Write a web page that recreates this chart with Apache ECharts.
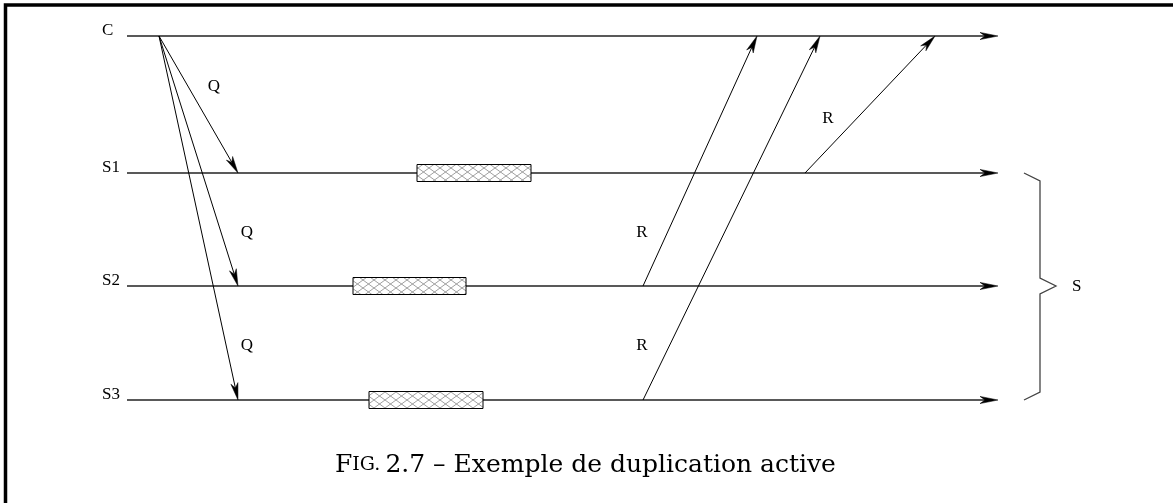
<!DOCTYPE html>
<html><head><meta charset="utf-8">
<script src="https://cdn.jsdelivr.net/npm/echarts@6/dist/echarts.min.js"></script>
<style>html,body{margin:0;padding:0;background:#fff}#c{width:1173px;height:503px}</style>
</head><body><div id="c"></div>
<script>
// ---- diagram data (in axis units) ----
const lanes = ['C', 'S1', 'S2', 'S3'];
const laneLevels = [36, 173, 286, 400];
const timelineStart = 127;
const timelineEnd = 998;
const laneLabelTime = 102;
// [sendTime, fromLane, receiveTime, toLane]
const queries = [[159, 'C', 238, 'S1'], [159, 'C', 238, 'S2'], [159, 'C', 238, 'S3']];
const replies = [[643, 'S2', 757, 'C'], [643, 'S3', 820, 'C'], [805, 'S1', 935, 'C']];
// [lane, startTime, endTime]
const processing = [['S1', 417, 531], ['S2', 353, 466], ['S3', 369, 483]];
// [text, time, level]
const messageLabels = [['Q', 214, 87], ['Q', 247, 233], ['Q', 247, 346], ['R', 642, 233], ['R', 642, 346], ['R', 828, 119]];
// [label, firstLane, middleLane, lastLane, time]
const groupBrace = ['S', 'S1', 'S2', 'S3', 1040];
const captionText = '2.7 – Exemple de duplication active';

const lv = name => laneLevels[lanes.indexOf(name)];

// hatch pattern
const pc = document.createElement('canvas');
pc.width = 11; pc.height = 8;
const g = pc.getContext('2d');
g.fillStyle = '#fff'; g.fillRect(0, 0, 11, 8);
g.strokeStyle = '#888'; g.lineWidth = 0.8;
g.beginPath(); g.moveTo(0, 0); g.lineTo(11, 8); g.moveTo(0, 8); g.lineTo(11, 0); g.stroke();

function arrowEls(p0, p1, color, lw, len, hw) {
  const dx = p1[0] - p0[0], dy = p1[1] - p0[1];
  const d = Math.sqrt(dx * dx + dy * dy);
  const ux = dx / d, uy = dy / d, nx = -uy, ny = ux;
  const bx = p1[0] - ux * len, by = p1[1] - uy * len;
  const mx = p1[0] - ux * len * 0.72, my = p1[1] - uy * len * 0.72;
  return [
    { type: 'line', shape: { x1: p0[0], y1: p0[1], x2: mx, y2: my }, style: { stroke: color, lineWidth: lw } },
    { type: 'polygon', shape: { points: [[p1[0], p1[1]], [bx + nx * hw, by + ny * hw], [mx, my], [bx - nx * hw, by - ny * hw]] },
      style: { fill: '#000', stroke: '#000', lineWidth: 0.5 } }
  ];
}

const laneData = lanes.map((n, i) => [timelineStart, laneLevels[i], timelineEnd, laneLevels[i], laneLabelTime]);
const msgData = queries.concat(replies).map(m => [m[0], lv(m[1]), m[2], lv(m[3])]);
const boxData = processing.map(p => [p[1], lv(p[0]), p[2], lv(p[0])]);
const braceData = [[groupBrace[4], lv(groupBrace[1]), lv(groupBrace[2]), lv(groupBrace[3])]];

const labelStyle = { fontFamily: 'Liberation Serif', fontSize: 17, fontWeight: 'normal', fill: '#000' };

const chart = echarts.init(document.getElementById('c'), null, { renderer: 'canvas' });
chart.setOption({
  animation: false,
  grid: { left: 0, right: 0, top: 0, bottom: 0 },
  xAxis: { type: 'value', min: 0, max: 1173, show: false },
  yAxis: { type: 'value', min: 0, max: 503, inverse: true, show: false },
  title: {
    left: 330, top: 448,
    text: '{a|F}{b|IG.} {a|' + captionText + '}',
    textStyle: {
      fontWeight: 'normal',
      rich: {
        a: { fontFamily: 'DejaVu Serif', fontSize: 25, fontWeight: 'normal', color: '#000' },
        b: { fontFamily: 'DejaVu Serif', fontSize: 19, fontWeight: 'normal', color: '#000' }
      }
    }
  },
  graphic: [{
    type: 'polyline', shape: { points: [[5.5, 503], [5.5, 5], [1173, 5]] },
    style: { stroke: '#000', lineWidth: 3.5, fill: null }
  }],
  series: [
    { // lanes
      type: 'custom', data: laneData, encode: { x: [0, 2], y: [1, 3] },
      renderItem: (params, api) => {
        const p0 = api.coord([api.value(0), api.value(1)]);
        const p1 = api.coord([api.value(2), api.value(3)]);
        const pl = api.coord([api.value(4), api.value(1)]);
        const i = params.dataIndex;
        return { type: 'group', children: arrowEls(p0, p1, '#222', 1.3, 18, 3.6).concat([
          { type: 'text', style: Object.assign({ text: lanes[i], x: pl[0], y: p0[1] - 5, align: 'left', verticalAlign: 'middle' }, labelStyle) }
        ]) };
      }
    },
    { // processing boxes
      type: 'custom', data: boxData, encode: { x: [0, 2], y: [1, 3] },
      renderItem: (params, api) => {
        const p0 = api.coord([api.value(0), api.value(1)]);
        const p1 = api.coord([api.value(2), api.value(3)]);
        return { type: 'rect', shape: { x: p0[0], y: p0[1] - 8.5, width: p1[0] - p0[0], height: 17 },
          style: { fill: { image: pc, repeat: 'repeat' }, stroke: '#000', lineWidth: 1 } };
      }
    },
    { // messages
      type: 'custom', data: msgData, encode: { x: [0, 2], y: [1, 3] },
      renderItem: (params, api) => {
        const p0 = api.coord([api.value(0), api.value(1)]);
        const p1 = api.coord([api.value(2), api.value(3)]);
        return { type: 'group', children: arrowEls(p0, p1, '#000', 1, 17, 3.6) };
      }
    },
    { // message labels
      type: 'custom', data: messageLabels.map(m => [m[1], m[2]]), encode: { x: 0, y: 1 },
      renderItem: (params, api) => {
        const p = api.coord([api.value(0), api.value(1)]);
        return { type: 'text', style: Object.assign({ text: messageLabels[params.dataIndex][0], x: p[0], y: p[1],
          align: 'center', verticalAlign: 'middle' }, labelStyle) };
      }
    },
    { // brace
      type: 'custom', data: braceData, encode: { x: 0, y: [1, 2, 3] },
      renderItem: (params, api) => {
        const x = api.value(0);
        const t = api.coord([x, api.value(1)]), m = api.coord([x, api.value(2)]), b = api.coord([x, api.value(3)]);
        const X = t[0];
        return { type: 'group', children: [
          { type: 'polyline', shape: { points: [[X - 16, t[1]], [X, t[1] + 8], [X, m[1] - 8], [X + 16, m[1]], [X, m[1] + 8], [X, b[1] - 8], [X - 16, b[1]]] },
            style: { stroke: '#444', lineWidth: 1.3, fill: null } },
          { type: 'text', style: Object.assign({ text: groupBrace[0], x: X + 32, y: m[1] + 1, align: 'left', verticalAlign: 'middle' }, labelStyle) }
        ] };
      }
    }
  ]
});
</script></body></html>
